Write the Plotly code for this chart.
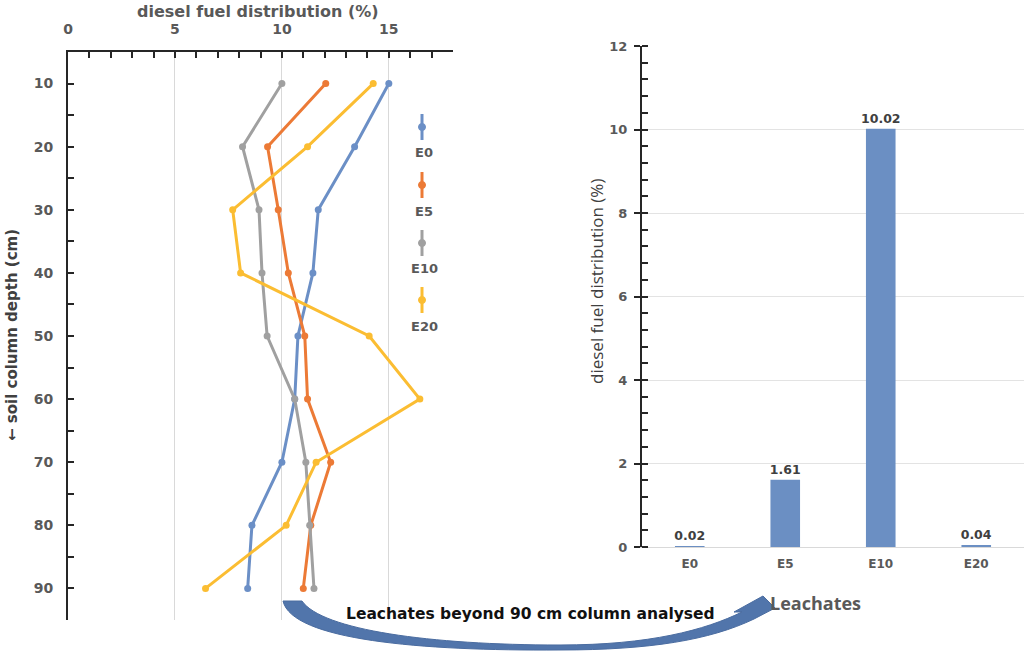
import plotly.graph_objects as go

W, H = 1024, 652

# ---------------- data ----------------
depth_cm = [10, 20, 30, 40, 50, 60, 70, 80, 90]
E0_pct = [15.0, 13.4, 11.7, 11.45, 10.75, 10.6, 10.0, 8.6, 8.4]
E5_pct = [12.05, 9.33, 9.83, 10.3, 11.07, 11.2, 12.28, 11.35, 11.0]
E10_pct = [10.0, 8.16, 8.93, 9.07, 9.31, 10.6, 11.12, 11.3, 11.5]
E20_pct = [14.27, 11.2, 7.7, 8.07, 14.08, 16.45, 11.6, 10.2, 6.43]

series_names = ["E0", "E5", "E10", "E20"]
series_colors = ["#6b8fc6", "#ec7a36", "#a0a0a0", "#fbbd32"]

leach_categories = ["E0", "E5", "E10", "E20"]
leach_values = [0.02, 1.61, 10.02, 0.04]
leach_labels = ["0.02", "1.61", "10.02", "0.04"]

depth_ticks = [10, 20, 30, 40, 50, 60, 70, 80, 90]
pct_ticks_left = [0, 5, 10, 15]
pct_ticks_right = [0, 2, 4, 6, 8, 10, 12]


def px(x):
    return x / W


def py(y):
    return 1 - y / H


BOLD = "DejaVu Sans"
GRAY = "#595959"
AX = "#262626"

fig = go.Figure()

for name, vals, col in zip(series_names, [E0_pct, E5_pct, E10_pct, E20_pct], series_colors):
    fig.add_trace(go.Scatter(
        x=vals, y=depth_cm, mode="lines+markers", name=name,
        line=dict(color=col, width=3), marker=dict(color=col, size=7),
        xaxis="x", yaxis="y", showlegend=False,
    ))

fig.add_trace(go.Bar(
    x=leach_categories, y=leach_values, text=leach_labels,
    textposition="outside", cliponaxis=False, constraintext="none",
    textfont=dict(family=BOLD, size=12.5, color="#404040", weight="bold"),
    marker=dict(color="#6b8fc3"), xaxis="x2", yaxis="y2", showlegend=False,
))

tickfont = dict(family=BOLD, size=14, color=GRAY, weight="bold")

fig.update_layout(
    template="none",
    width=W, height=H, autosize=False,
    margin=dict(l=0, r=0, t=0, b=0, pad=0),
    paper_bgcolor="white", plot_bgcolor="white",
    bargap=0.69, showlegend=False,
    xaxis=dict(
        domain=[px(68), px(453)], range=[0, 18], side="top", automargin=False,
        anchor="y", tickvals=pct_ticks_left, ticks="inside", ticklen=6,
        tickcolor=AX, tickwidth=1.5,
        minor=dict(dtick=1, ticks="inside", ticklen=6, tickcolor=AX, showgrid=False),
        showline=True, linecolor=AX, linewidth=2,
        showgrid=True, gridcolor="#d9d9d9", gridwidth=1,
        zeroline=False, tickfont=tickfont, ticklabelstandoff=10,
    ),
    # overlay axis: outer half of the crossing major ticks on the top axis
    xaxis3=dict(
        domain=[px(68), px(453)], range=[0, 18], side="top", automargin=False,
        anchor="y", overlaying="x", tickvals=pct_ticks_left[1:], ticks="outside",
        ticklen=6, tickcolor=AX, tickwidth=1.5, showticklabels=False,
        showline=False, showgrid=False, zeroline=False,
    ),
    yaxis=dict(
        domain=[py(620), py(52)], range=[95, 5], anchor="x", automargin=False,
        tickvals=depth_ticks, ticks="inside", ticklen=6,
        tickcolor=AX, tickwidth=1.5,
        minor=dict(dtick=5, tick0=5, ticks="inside", ticklen=6, tickcolor=AX, showgrid=False),
        showline=True, linecolor=AX, linewidth=2,
        showgrid=False, zeroline=False, tickfont=tickfont, ticklabelstandoff=10,
    ),
    # overlay axis: the long outer tick at the bottom end of the depth axis
    yaxis3=dict(
        domain=[py(620), py(52)], range=[95, 5], anchor="x", overlaying="y",
        automargin=False, tickvals=[95], ticks="outside", ticklen=12,
        tickcolor=AX, tickwidth=2, showticklabels=False,
        showline=False, showgrid=False, zeroline=False,
    ),
    xaxis2=dict(
        domain=[px(642), px(1024)], anchor="y2", range=[-0.5, 3.5], automargin=False,
        showline=True, linecolor="#d9d9d9", linewidth=1, ticks="", showgrid=False,
        zeroline=False,
        tickfont=dict(family=BOLD, size=12, color=GRAY, weight="bold"),
        ticklabelstandoff=6,
    ),
    yaxis2=dict(
        domain=[py(547), py(46)], anchor="x2", range=[0, 12], automargin=False,
        tickvals=pct_ticks_right, ticks="outside", ticklen=6,
        tickcolor=AX, tickwidth=1.5,
        minor=dict(dtick=0.4, ticks="inside", ticklen=6, tickcolor=AX, showgrid=False),
        showline=True, linecolor=AX, linewidth=2,
        showgrid=True, gridcolor="#e3e3e3", zeroline=False,
        tickfont=dict(family=BOLD, size=13, color=GRAY, weight="bold"),
        ticklabelstandoff=4,
    ),
    # overlay axis: inner half of the crossing major ticks on the bar chart axis
    yaxis4=dict(
        domain=[py(547), py(46)], anchor="x2", overlaying="y2", range=[0, 12],
        automargin=False, tickvals=pct_ticks_right, ticks="inside", ticklen=6,
        tickcolor=AX, tickwidth=1.5, showticklabels=False,
        showline=False, showgrid=False, zeroline=False,
    ),
)

PAPER = dict(xref="paper", yref="paper", showarrow=False, xanchor="center", yanchor="middle")

annotations = [
    dict(x=px(258), y=py(11), text="diesel fuel distribution (%)",
         font=dict(family=BOLD, size=16, color=GRAY, weight="bold"), **PAPER),
    dict(x=px(12), y=py(335), text="← soil column depth (cm)", textangle=-90,
         font=dict(family=BOLD, size=15, color="#404040", weight="bold"), **PAPER),
    dict(x=px(597), y=py(282), text="diesel fuel distribution (%)", textangle=-90,
         font=dict(family="Open Sans", size=17, color="#404040"), **PAPER),
    dict(x=px(530), y=py(614), text="Leachates beyond 90 cm column analysed",
         font=dict(family=BOLD, size=15.5, color="#111111", weight="bold"), **PAPER),
    dict(x=px(815), y=py(603), text="Leachates",
         font=dict(family="Open Sans", size=18, color=GRAY, weight="bold"), **PAPER),
]

shapes = []
# manual vertical legend
leg_x = 422
leg_top = [114, 172, 230, 287]
for name, col, t in zip(series_names, series_colors, leg_top):
    shapes.append(dict(type="line", xref="paper", yref="paper",
                       x0=px(leg_x), x1=px(leg_x), y0=py(t), y1=py(t + 26),
                       line=dict(color=col, width=3)))
    shapes.append(dict(type="circle", xref="paper", yref="paper",
                       x0=px(leg_x - 3.5), x1=px(leg_x + 3.5),
                       y0=py(t + 13 - 3.5), y1=py(t + 13 + 3.5),
                       fillcolor=col, line=dict(color=col, width=1)))
    annotations.append(dict(x=px(leg_x + 2), y=py(t + 39), text=name,
                            font=dict(family=BOLD, size=13, color=GRAY, weight="bold"), **PAPER))

# curved arrow (decoration)
def P(x, y):
    return f"{px(x):.5f},{py(y):.5f}"

path = ("M " + P(283, 601) + " L " + P(302, 601) +
        " C " + P(322, 630) + " " + P(430, 645) + " " + P(560, 645) +
        " C " + P(650, 645) + " " + P(705, 630) + " " + P(742, 612) +
        " L " + P(734, 612) + " L " + P(763, 596) + " L " + P(775, 608) +
        " L " + P(754, 619) +
        " C " + P(710, 640) + " " + P(650, 650) + " " + P(560, 650) +
        " C " + P(420, 651) + " " + P(292, 640) + " " + P(283, 601) + " Z")
shapes.append(dict(type="path", xref="paper", yref="paper", path=path,
                   fillcolor="#5175ab", line=dict(color="#4a6ca0", width=1)))

fig.update_layout(annotations=annotations, shapes=shapes)

fig.write_html(
    "out.html",
    config={"displayModeBar": False},
    post_script="document.body.style.margin='0';document.body.style.overflow='hidden';",
)
